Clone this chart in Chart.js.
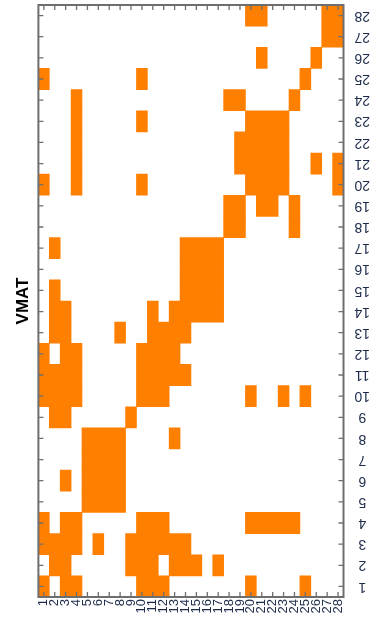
<!DOCTYPE html>
<html>
<head>
<meta charset="utf-8">
<script src="https://cdn.jsdelivr.net/npm/chart.js@4.4.0/dist/chart.umd.min.js"></script>
<style>
  html, body { margin: 0; padding: 0; background: #fff; }
  #wrap { width: 376px; height: 621px; }
</style>
</head>
<body>
<div id="wrap"><canvas id="vmat"></canvas></div>
<script>
// axis numbers (rows go bottom -> top, columns left -> right)
const rowLabels = ['1','2','3','4','5','6','7','8','9','10','11','12','13','14',
                   '15','16','17','18','19','20','21','22','23','24','25','26','27','28'];
const colLabels = ['1','2','3','4','5','6','7','8','9','10','11','12','13','14',
                   '15','16','17','18','19','20','21','22','23','24','25','26','27','28'];

// filled (orange) columns in each row, row 1 first
const filledCols = [
  [1, 3, 4, 10, 11, 12, 20, 25],
  [2, 3, 9, 10, 11, 13, 14, 15, 17],
  [1, 2, 3, 4, 6, 9, 10, 11, 12, 13, 14],
  [1, 3, 4, 10, 11, 12, 20, 21, 22, 23, 24],
  [5, 6, 7, 8],
  [3, 5, 6, 7, 8],
  [5, 6, 7, 8],
  [5, 6, 7, 8, 13],
  [2, 3, 9],
  [1, 2, 3, 4, 10, 11, 12, 20, 23, 25],
  [1, 2, 3, 4, 10, 11, 12, 13, 14],
  [1, 3, 4, 10, 11, 12, 13],
  [2, 3, 8, 11, 12, 13, 14],
  [2, 3, 11, 13, 14, 15, 16, 17],
  [2, 14, 15, 16, 17],
  [14, 15, 16, 17],
  [2, 14, 15, 16, 17],
  [18, 19, 24],
  [18, 19, 21, 22, 24],
  [1, 4, 10, 20, 21, 22, 23, 28],
  [4, 19, 20, 21, 22, 23, 26, 28],
  [4, 19, 20, 21, 22, 23],
  [4, 10, 20, 21, 22, 23],
  [4, 18, 19, 24],
  [1, 10, 25],
  [21, 26],
  [27, 28],
  [20, 21, 27, 28]
];

const cellColor = '#ff7f00';

// join neighbouring cells of a row into one floating bar
const runsByRow = filledCols.map(cols => {
  const runs = [];
  cols.forEach(c => {
    const last = runs[runs.length - 1];
    if (last && last[1] === c - 1) last[1] = c;
    else runs.push([c, c]);
  });
  return runs.map(r => [r[0] - 0.5, r[1] + 0.5]);
});
const maxRuns = Math.max(...runsByRow.map(r => r.length));

const datasets = [];
for (let k = 0; k < maxRuns; k++) {
  datasets.push({
    data: runsByRow.map(r => r[k] || null),
    backgroundColor: cellColor,
    borderWidth: 0,
    barPercentage: 1,
    categoryPercentage: 1,
    grouped: false
  });
}

// frame + short inward ticks
const frameTicks = {
  id: 'frameTicks',
  afterDatasetsDraw(chart) {
    const {ctx, chartArea: {left, right, top, bottom}, scales: {x, y}} = chart;
    ctx.save();
    ctx.strokeStyle = '#6e6e6e';
    ctx.lineWidth = 1.3;
    ctx.beginPath();
    x.ticks.forEach(t => {
      const px = x.getPixelForValue(t.value);
      ctx.moveTo(px, bottom); ctx.lineTo(px, bottom - 5);
      ctx.moveTo(px, top); ctx.lineTo(px, top + 5);
    });
    y.ticks.forEach((t, i) => {
      const py = y.getPixelForTick(i);
      ctx.moveTo(left, py); ctx.lineTo(left + 5, py);
      ctx.moveTo(right, py); ctx.lineTo(right - 5, py);
    });
    ctx.stroke();
    ctx.lineWidth = 2;
    ctx.strokeRect(left, top, right - left, bottom - top);
    ctx.restore();
  }
};

new Chart(document.getElementById('vmat'), {
  type: 'bar',
  data: { labels: rowLabels, datasets: datasets },
  plugins: [frameTicks],
  options: {
    indexAxis: 'y',
    responsive: true,
    maintainAspectRatio: false,
    animation: false,
    layout: { padding: { top: 5, left: 0, right: 0, bottom: 0 } },
    plugins: {
      legend: { display: false },
      tooltip: { enabled: false },
      title: {
        display: true,
        text: 'VMAT',
        position: 'left',
        fullSize: false,
        color: '#000',
        font: { family: 'Liberation Sans', size: 17, weight: 'bold' },
        padding: { top: 13, bottom: 5 }
      }
    },
    scales: {
      x: {
        type: 'linear',
        min: 0.5,
        max: 28.5,
        grid: { display: false, drawTicks: false },
        border: { display: false },
        afterBuildTicks: axis => {
          axis.ticks = colLabels.map((l, i) => ({ value: i + 1 }));
        },
        afterFit: axis => {
          axis.height = 24;
          axis.paddingLeft = 0;
          axis.paddingRight = 0;
        },
        ticks: {
          autoSkip: false,
          minRotation: 90,
          maxRotation: 90,
          padding: 2,
          color: '#1c2b4a',
          font: { family: 'Liberation Sans', size: 13 },
          callback: v => colLabels[v - 1]
        }
      },
      y: {
        type: 'category',
        position: 'right',
        reverse: true,
        offset: true,
        grid: { display: false, drawTicks: false },
        border: { display: false },
        afterFit: axis => {
          axis.width = 32.5;
          axis.paddingTop = 0;
          axis.paddingBottom = 0;
        },
        ticks: {
          autoSkip: false,
          minRotation: 180,
          maxRotation: 180,
          crossAlign: 'center',
          padding: 11,
          color: '#1c2b4a',
          font: { family: 'Liberation Sans', size: 14 }
        }
      }
    }
  }
});
</script>
</body>
</html>
